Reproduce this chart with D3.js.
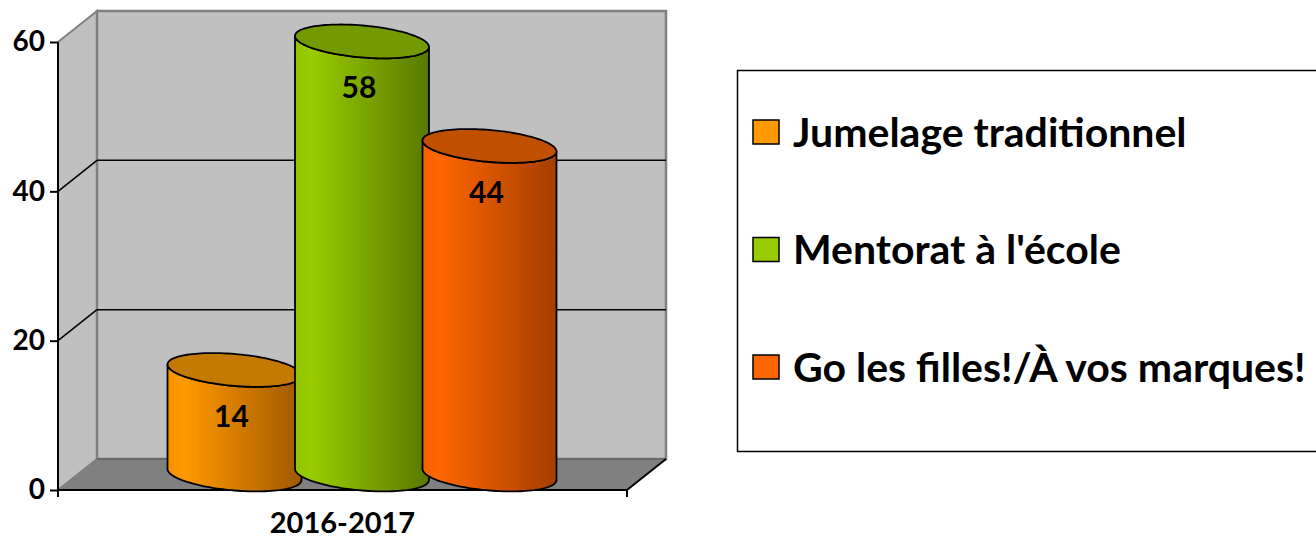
<!DOCTYPE html>
<html><head><meta charset="utf-8">
<script src="https://cdn.jsdelivr.net/npm/d3@7"></script>
<style>body{margin:0;background:#fff}svg{display:block}text{font-family:Lato,"Open Sans",sans-serif;font-weight:bold}</style>
</head><body>
<script>
const categories = ["2016-2017"];
const seriesNames = ["Jumelage traditionnel", "Mentorat à l'école", "Go les filles!/À vos marques!"];
const values = [14, 58, 44];
const yTicks = [0, 20, 40, 60];
const bodyColors = [["#ff9900", "#a05800"], ["#99cc00", "#587800"], ["#ff6600", "#a43e00"]];
const topColors = ["#c47a00", "#739a00", "#c05000"];
const swatchColors = ["#ff9900", "#99cc00", "#ff6600"];

const W = 1316, H = 542;
const svg = d3.select("body").append("svg").attr("width", W).attr("height", H);
const defs = svg.append("defs");

// front plane
const x0 = 58, x1 = 627, depthX = 39, depthY = -31;
const y = d3.scaleLinear().domain([0, 60]).range([490, 42]);
const xCat = d3.scaleBand().domain(categories).range([x0, x1]).padding(0);

// walls
const backY = v => y(v) + depthY;
svg.append("polygon")
  .attr("points", [[x0, y(0)], [x0 + depthX, backY(0)], [x1 + depthX, backY(0)], [x1, y(0)]].join(" "))
  .attr("fill", "#808080");
svg.append("polygon")
  .attr("points", [[x0, y(0)], [x0, y(60)], [x0 + depthX, backY(60)], [x0 + depthX, backY(0)]].join(" "))
  .attr("fill", "#c0c0c0").attr("stroke", "#808080").attr("stroke-width", 2);
svg.append("rect")
  .attr("x", x0 + depthX).attr("y", backY(60))
  .attr("width", x1 - x0).attr("height", backY(0) - backY(60))
  .attr("fill", "#c0c0c0").attr("stroke", "#808080").attr("stroke-width", 2.5);
svg.append("line").attr("x1", x0 + depthX).attr("x2", x1 + depthX)
  .attr("y1", backY(0)).attr("y2", backY(0)).attr("stroke", "#6a6a6a").attr("stroke-width", 2);

// gridlines
yTicks.filter(t => t > 0 && t < 60).forEach(t => {
  svg.append("line").attr("x1", x0 + depthX).attr("x2", x1 + depthX)
    .attr("y1", backY(t)).attr("y2", backY(t)).attr("stroke", "#000").attr("stroke-width", 1.5);
  svg.append("line").attr("x1", x0).attr("x2", x0 + depthX)
    .attr("y1", y(t)).attr("y2", backY(t)).attr("stroke", "#000").attr("stroke-width", 1.5);
});

// front floor edges
svg.append("line").attr("x1", x0).attr("x2", x1).attr("y1", y(0)).attr("y2", y(0))
  .attr("stroke", "#000").attr("stroke-width", 2);
svg.append("line").attr("x1", x1).attr("x2", x1 + depthX).attr("y1", y(0)).attr("y2", backY(0))
  .attr("stroke", "#000").attr("stroke-width", 2);
svg.append("line").attr("x1", x1).attr("x2", x1).attr("y1", y(0)).attr("y2", y(0) + 7)
  .attr("stroke", "#000").attr("stroke-width", 2);

// y axis
const yAxis = svg.append("g").attr("transform", `translate(${x0},0)`)
  .call(d3.axisLeft(y).tickValues(yTicks).tickSize(8).tickPadding(5));
yAxis.select(".domain").attr("stroke", "#000").attr("stroke-width", 2)
  .attr("d", `M0,${y(60)}V${y(0) + 7}`);
yAxis.selectAll(".tick line").attr("stroke", "#000").attr("stroke-width", 2);
yAxis.selectAll(".tick text").attr("font-size", 28).attr("fill", "#000")
  .style("font-family", "Lato").style("font-weight", "bold");

// x label
svg.selectAll(".xlab").data(categories).enter().append("text")
  .attr("x", d => xCat(d) + xCat.bandwidth() / 2).attr("y", 523).attr("dy", "0.35em")
  .attr("text-anchor", "middle").attr("font-size", 29).text(d => d);

// cylinders on mid-depth plane
const midDX = depthX / 2, midDY = depthY / 2;
const yMid = v => y(v) + midDY;
const catC = xCat(categories[0]) + xCat.bandwidth() / 2 + midDX;
const step = 127.5;
const xs = d3.scaleBand().domain(seriesNames).range([catC - 1.5 * step, catC + 1.5 * step]);
const rx = 67, ry = 16, shear = 5.5 / 67;

function ell(cx, cy, t) {
  return [cx + rx * Math.cos(t), cy + ry * Math.sin(t) + shear * rx * Math.cos(t)];
}
const line = d3.line();

seriesNames.forEach((name, i) => {
  const g = svg.append("g");
  const gid = "grad" + i;
  const gr = defs.append("linearGradient").attr("id", gid).attr("x1", "0").attr("x2", "1").attr("y1", "0").attr("y2", "0");
  const c0 = d3.color(bodyColors[i][0]), c1 = d3.color(bodyColors[i][1]);
  gr.append("stop").attr("offset", "0").attr("stop-color", d3.interpolateRgb(c0, c1)(0.12));
  gr.append("stop").attr("offset", "0.12").attr("stop-color", c0);
  gr.append("stop").attr("offset", "1").attr("stop-color", c1);

  const cx = xs(name) + xs.bandwidth() / 2;
  const cyTop = yMid(values[i]), cyBot = yMid(0);
  const n = 60;
  const pts = [];
  pts.push(ell(cx, cyTop, Math.PI));
  for (let k = 0; k <= n; k++) pts.push(ell(cx, cyBot, Math.PI - Math.PI * k / n));
  for (let k = 0; k <= n; k++) pts.push(ell(cx, cyTop, Math.PI * k / n));
  g.append("path").attr("d", line(pts) + "Z").attr("fill", `url(#${gid})`)
    .attr("stroke", "#000").attr("stroke-width", 1.8).attr("stroke-linejoin", "round");
  const tp = [];
  for (let k = 0; k <= 2 * n; k++) tp.push(ell(cx, cyTop, Math.PI * k / n));
  g.append("path").attr("d", line(tp) + "Z").attr("fill", topColors[i])
    .attr("stroke", "#000").attr("stroke-width", 1.8);
  g.append("text").attr("x", cx - 3).attr("y", cyTop + 46).attr("dy", "0.36em")
    .attr("text-anchor", "middle").attr("font-size", 30).attr("fill", "#000").text(values[i]);
});

// legend
const leg = svg.append("g");
leg.append("rect").attr("x", 737.5).attr("y", 70.5).attr("width", 620).attr("height", 381)
  .attr("fill", "#fff").attr("stroke", "#000").attr("stroke-width", 1.5);
const ly = d3.scalePoint().domain(seriesNames).range([132, 367]);
seriesNames.forEach((name, i) => {
  leg.append("rect").attr("x", 753).attr("y", ly(name) - 12).attr("width", 26).attr("height", 24)
    .attr("fill", swatchColors[i]).attr("stroke", "#000").attr("stroke-width", 1.5);
  leg.append("text").attr("x", 793).attr("y", ly(name)).attr("dy", "0.36em")
    .attr("font-size", 41).attr("fill", "#000").text(name);
});
</script>
</body></html>
